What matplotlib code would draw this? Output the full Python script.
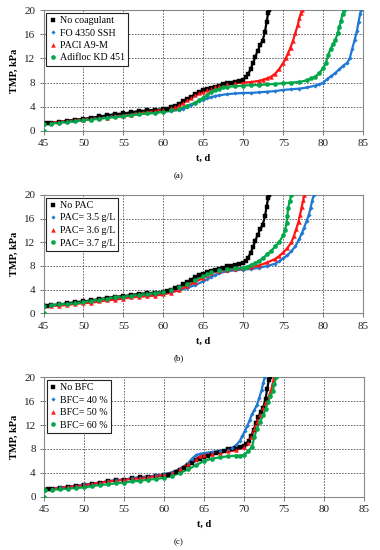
import matplotlib
matplotlib.use("Agg")
import matplotlib.pyplot as plt

plt.rcParams['font.family'] = ['Liberation Serif', 'DejaVu Serif']

# ---------------- data (t in days, TMP in kPa) ----------------
control = [(45,1.2),(45.5,1.3),(46,1.4),(47,1.5),(48,1.7),(49,1.9),(50,2.0),(51,2.2),(52,2.4),
           (53,2.6),(54,2.8),(55,2.9),(56,3.1),(57,3.3),(58,3.4),(59,3.5),(60,3.6),(60.5,3.7),
           (61,3.9),(61.5,4.2),(62,4.5),(62.5,4.9),(63,5.3),(63.5,5.7),(64,6.1),(64.5,6.4),
           (65,6.7),(65.5,6.9),(66,7.1),(66.5,7.3),(67,7.5),(67.5,7.7),(68,8.0),(68.5,8.0),
           (69,8.1),(69.5,8.3),(70,8.5),(70.3,8.9),(70.6,9.4),(70.9,10.2),(71.2,11.2),(71.5,12.3),
           (71.8,13.3),(72.1,14.2),(72.4,14.9),(72.7,16.4),(72.9,18.0),(73.1,19.5),(73.2,20.0)]

a_fo4350 = [(45,1.1),(46,1.3),(47,1.4),(48,1.5),(49,1.6),(50,1.8),(51,2.0),(52,2.1),(53,2.3),
            (54,2.4),(55,2.5),(56,2.7),(57,2.8),(58,2.9),(59,3.0),(60,3.2),(61,3.3),(62,3.5),
            (62.5,3.7),(63,4.0),(63.5,4.3),(64,4.7),(64.5,5.0),(65,5.2),(65.5,5.4),(66,5.6),
            (66.5,5.8),(67,5.9),(68,6.1),(69,6.2),(70,6.3),(71,6.3),(72,6.4),(73,6.5),(74,6.6),
            (75,6.8),(76,6.9),(77,7.0),(78,7.2),(79,7.5),(79.5,7.7),(80,8.0),(80.5,8.6),(81,9.1),
            (81.5,9.6),(82,10.2),(82.5,10.8),(83,11.3),(83.3,12.0),(83.6,13.5),(83.9,15.0),
            (84.2,16.5),(84.4,18.0),(84.6,19.3),(84.7,20.0)]

a_pacl = [(45,1.3),(46,1.4),(47,1.5),(48,1.6),(49,1.8),(50,1.9),(51,2.0),(52,2.1),(53,2.2),
          (54,2.4),(55,2.5),(56,2.7),(57,2.9),(58,3.1),(59,3.3),(60,3.5),(61,3.8),(61.5,4.0),
          (62,4.3),(62.5,4.7),(63,5.1),(63.5,5.5),(64,5.9),(64.5,6.2),(65,6.5),(65.5,6.8),
          (66,7.0),(66.5,7.2),(67,7.4),(68,7.7),(69,7.9),(70,8.0),(71,8.1),(72,8.3),(72.5,8.5),
          (73,8.7),(73.5,9.0),(74,9.5),(74.5,10.3),(75,11.3),(75.3,12.0),(75.6,12.9),(75.9,13.8),
          (76.2,14.9),(76.5,16.2),(76.8,17.5),(77.0,18.6),(77.2,19.5),(77.3,20.0)]

a_adifloc = [(45,0.0),(45.1,1.1),(46,1.2),(47,1.4),(48,1.5),(49,1.7),(50,1.8),(51,1.9),(52,2.0),
             (53,2.2),(54,2.3),(55,2.4),(56,2.6),(57,2.8),(58,2.9),(59,3.0),(60,3.2),(61,3.4),
             (62,3.7),(63,4.2),(64,4.7),(64.5,5.1),(65,5.5),(65.5,6.0),(66,6.5),(66.5,6.8),
             (67,7.0),(67.5,7.2),(68,7.3),(69,7.4),(70,7.5),(71,7.6),(72,7.6),(73,7.7),(74,7.8),
             (75,7.9),(76,8.0),(77,8.1),(78,8.4),(78.5,8.7),(79,9.0),(79.5,9.6),(80,10.4),
             (80.3,11.2),(80.6,12.5),(80.9,13.6),(81.2,14.3),(81.5,15.0),(81.8,16.2),(82.0,17.2),
             (82.2,18.2),(82.4,19.3),(82.6,20.0)]

b_pac35 = [(45,1.2),(46,1.3),(47,1.4),(48,1.5),(49,1.7),(50,1.8),(51,2.0),(52,2.2),(53,2.3),
           (54,2.5),(55,2.6),(56,2.8),(57,2.9),(58,3.0),(59,3.1),(60,3.3),(61,3.6),(62,3.9),
           (63,4.3),(64,4.8),(65,5.4),(65.5,5.8),(66,6.2),(66.5,6.5),(67,6.8),(68,7.1),(69,7.3),
           (70,7.4),(71,7.5),(72,7.7),(73,8.0),(74,8.4),(74.5,8.8),(75,9.3),(75.5,9.8),(76,10.5),
           (76.5,11.3),(77,12.6),(77.3,13.5),(77.6,14.5),(77.9,15.6),(78.2,16.7),(78.4,17.8),
           (78.6,19.0),(78.8,20.0)]

b_pac36 = [(45,1.2),(46,1.3),(47,1.3),(48,1.4),(49,1.6),(50,1.7),(51,1.8),(52,2.0),(53,2.2),
           (54,2.3),(55,2.5),(56,2.7),(57,2.8),(58,2.9),(59,3.0),(60,3.2),(61,3.5),(62,4.0),
           (63,4.6),(64,5.3),(65,6.0),(65.5,6.4),(66,6.8),(67,7.2),(68,7.4),(69,7.5),(70,7.6),
           (71,7.8),(72,8.1),(73,8.6),(74,9.2),(74.5,9.7),(75,10.3),(75.5,11.0),(76,12.0),
           (76.3,13.0),(76.6,14.2),(76.9,15.5),(77.1,16.7),(77.3,18.0),(77.5,19.2),(77.6,20.0)]

b_pac37 = [(45,0.0),(45.1,1.3),(46,1.4),(47,1.5),(48,1.6),(49,1.7),(50,1.9),(51,2.1),(52,2.3),
           (53,2.5),(54,2.7),(55,2.8),(56,3.0),(57,3.1),(58,3.3),(59,3.4),(60,3.6),(61,4.0),
           (62,4.4),(63,5.0),(64,5.7),(65,6.3),(65.5,6.6),(66,6.9),(67,7.3),(68,7.5),(69,7.6),
           (70,7.7),(70.5,7.9),(71,8.2),(71.5,8.5),(72,8.9),(72.5,9.4),(73,10.0),(73.5,10.6),
           (74,11.3),(74.5,12.1),(75,13.2),(75.2,14.0),(75.4,15.2),(75.5,16.5),(75.6,17.8),
           (75.8,19.0),(76.0,20.0)]

c_bfc40 = [(45,1.3),(46,1.4),(47,1.6),(48,1.7),(49,1.9),(50,2.1),(51,2.2),(52,2.4),(53,2.6),
           (54,2.8),(55,2.9),(56,3.1),(57,3.2),(58,3.4),(59,3.6),(60,3.8),(61,4.1),(62,4.7),
           (63,5.6),(63.5,6.4),(64,7.0),(64.5,7.2),(65,7.3),(66,7.5),(67,7.7),(68,7.9),(68.5,8.2),
           (69,8.6),(69.5,9.4),(69.8,10.2),(70.1,11.0),(70.4,11.8),(70.7,12.8),(71.0,13.8),
           (71.3,14.5),(71.6,15.3),(71.9,16.5),(72.2,17.8),(72.4,19.0),(72.6,20.0)]

c_bfc50 = [(45,1.3),(46,1.4),(47,1.5),(48,1.7),(49,1.8),(50,2.0),(51,2.2),(52,2.4),(53,2.6),
           (54,2.7),(55,2.9),(56,3.0),(57,3.1),(58,3.3),(59,3.5),(60,3.7),(61,4.0),(62,4.6),
           (63,5.5),(64,6.4),(64.5,6.8),(65,7.0),(66,7.2),(67,7.4),(68,7.6),(69,7.8),(70,8.3),
           (70.5,9.0),(70.9,10.0),(71.3,11.3),(71.6,12.5),(72.0,13.6),(72.4,14.8),(72.8,15.8),
           (73.1,16.8),(73.4,17.8),(73.6,19.0),(73.8,20.0)]

c_bfc60 = [(45,0.0),(45.1,1.1),(46,1.2),(47,1.3),(48,1.4),(49,1.5),(50,1.6),(51,1.8),(52,2.0),
           (53,2.1),(54,2.3),(55,2.4),(56,2.6),(57,2.7),(58,2.9),(59,3.0),(60,3.2),(61,3.5),
           (62,4.0),(63,4.6),(64,5.3),(65,6.0),(66,6.4),(67,6.6),(68,6.8),(69,6.9),(69.5,6.9),
           (70,7.0),(70.5,7.6),(71.0,8.4),(71.3,10.0),(71.6,11.4),(72.0,12.5),(72.4,13.6),
           (72.7,14.7),(73.0,15.8),(73.3,16.8),(73.6,17.7),(73.8,18.8),(74.0,20.0)]

labels_a = ["No coagulant", "FO 4350 SSH", "PACl A9-M", "Adifloc KD 451"]
labels_b = ["No PAC", "PAC= 3.5 g/L", "PAC= 3.6 g/L", "PAC= 3.7 g/L"]
labels_c = ["No BFC", "BFC= 40 %", "BFC= 50 %", "BFC= 60 %"]
x_ticks = [45, 50, 55, 60, 65, 70, 75, 80, 85]
y_ticks = [0, 4, 8, 12, 16, 20]
panel_tags = ["(a)", "(b)", "(c)"]

colors = ["#000000", "#1f78d4", "#ff1414", "#00a84a"]
markers = ["s", "D", "^", "o"]
msizes = [3.0, 1.8, 2.8, 3.0]

panels = [
    ([control, a_fo4350, a_pacl, a_adifloc], labels_a, panel_tags[0]),
    ([control, b_pac35, b_pac36, b_pac37], labels_b, panel_tags[1]),
    ([control, c_bfc40, c_bfc50, c_bfc60], labels_c, panel_tags[2]),
]

W, H = 380, 550
fig = plt.figure(figsize=(W / 100, H / 100), dpi=100)

# axes boxes in pixels: left, top, right, bottom
boxes = [(43.5, 10, 363.3, 131), (43.5, 195, 363.3, 313.3), (44, 377, 364, 497)]

for (series, labels, tag), (l, t, r, b) in zip(panels, boxes):
    ax = fig.add_axes([l / W, 1 - b / H, (r - l) / W, (b - t) / H])
    handles = []
    for s, lab, c, m, ms in zip(series, labels, colors, markers, msizes):
        xs = [p[0] for p in s]
        ys = [p[1] for p in s]
        start = 1 if ys[0] == 0 else 0
        ax.plot(xs[start:], ys[start:], color=c, lw=1.6, solid_capstyle='round', zorder=2)
        h, = ax.plot(xs, ys, ls='none', marker=m, ms=ms, color=c, mec=c, mew=0.3,
                     label=lab, zorder=3)
        handles.append(h)
    ax.set_xlim(45, 85)
    ax.set_ylim(0, 20)
    ax.set_xticks(x_ticks)
    ax.set_yticks(y_ticks)
    ax.tick_params(labelsize=8, length=3, width=0.6, color='#666666', pad=3,
                   labelcolor='#222222')
    ax.grid(True, ls=(0, (2, 1.5)), color='#555555', lw=0.6)
    ax.set_axisbelow(True)
    for sp in ax.spines.values():
        sp.set_color('#888888')
        sp.set_linewidth(0.8)
    ax.set_ylabel("TMP, kPa", fontsize=7.5, fontweight='bold', labelpad=4)
    fig.text((l + r) / 2 / W, 1 - (b + 27.5) / H, "t, d", ha='center', va='center',
             fontsize=7.5, fontweight='bold')
    fig.text(179 / W, 1 - (b + 45) / H, tag, ha='center', va='center', fontsize=6.5)
    leg = ax.legend(handles=handles, loc='upper left', fontsize=7.2, frameon=True,
                    fancybox=False, edgecolor='#222222', framealpha=1,
                    borderaxespad=0.25, handlelength=0.6, handletextpad=0.4,
                    borderpad=0.35, labelspacing=0.35, markerscale=1.0)
    leg.get_frame().set_linewidth(0.8)

fig.savefig("out.png", dpi=100)
